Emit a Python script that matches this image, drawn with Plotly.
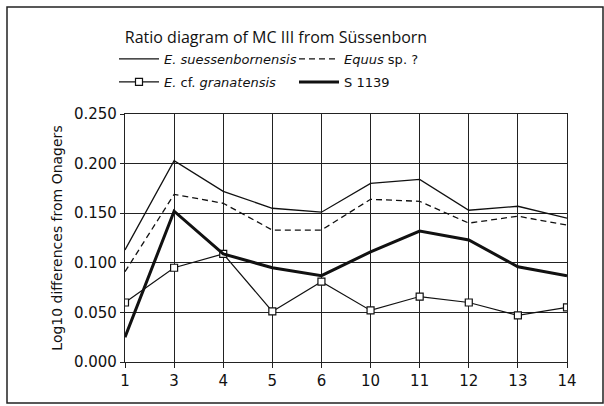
import plotly.graph_objects as go

categories = ["1", "3", "4", "5", "6", "10", "11", "12", "13", "14"]
suessenbornensis = [0.113, 0.203, 0.172, 0.155, 0.151, 0.180, 0.184, 0.153, 0.157, 0.145]
equus_sp = [0.091, 0.169, 0.160, 0.133, 0.133, 0.164, 0.162, 0.140, 0.147, 0.138]
granatensis = [0.060, 0.095, 0.109, 0.051, 0.081, 0.052, 0.066, 0.060, 0.047, 0.055]
s1139 = [0.025, 0.152, 0.109, 0.095, 0.087, 0.111, 0.132, 0.123, 0.096, 0.087]
y_ticks = [0.0, 0.05, 0.10, 0.15, 0.20, 0.25]

FONT = "DejaVu Sans"
TITLE_FONT = "Open Sans"

fig = go.Figure()
fig.add_trace(go.Scatter(x=categories, y=suessenbornensis, mode="lines",
                         name="<i>E. suessenbornensis</i>", legend="legend",
                         line=dict(color="#111", width=1.3)))
fig.add_trace(go.Scatter(x=categories, y=equus_sp, mode="lines",
                         name="<i>Equus</i> sp. ?", legend="legend",
                         line=dict(color="#111", width=1.3, dash="6px,4px")))
fig.add_trace(go.Scatter(x=categories, y=granatensis, mode="lines+markers",
                         name="<i>E.</i> cf. <i>granatensis</i>", legend="legend2",
                         line=dict(color="#111", width=1.2),
                         marker=dict(symbol="square", size=7, color="white",
                                     line=dict(color="#111", width=1.2))))
fig.add_trace(go.Scatter(x=categories, y=s1139, mode="lines",
                         name="S 1139", legend="legend2",
                         line=dict(color="#111", width=3)))

L, R, T, B = 125, 567, 114, 362


def px_x(p):
    return (p - L) / float(R - L)


def px_y(p):
    return (B - p) / float(B - T)


fig.add_shape(type="rect", xref="paper", yref="paper",
              x0=px_x(7), x1=px_x(603), y0=px_y(403), y1=px_y(7),
              line=dict(color="#222", width=1.5), fillcolor="rgba(0,0,0,0)", layer="below")

legend_common = dict(orientation="h", xanchor="left", yanchor="top",
                     entrywidth=125, entrywidthmode="pixels",
                     font=dict(size=13, family=FONT, color="#111"),
                     bgcolor="rgba(0,0,0,0)", itemwidth=40)

fig.update_layout(
    width=604, height=406,
    margin=dict(l=L, r=604 - R, t=T, b=406 - B),
    paper_bgcolor="white", plot_bgcolor="white",
    font=dict(family=FONT, color="#111", size=14),
    title=dict(text="Ratio diagram of MC III from Süssenborn",
               x=px_x(276), xref="paper", xanchor="center",
               y=1 - 37 / 406.0, yanchor="middle",
               font=dict(size=16, family=TITLE_FONT, color="#111")),
    showlegend=True,
    legend=dict(x=px_x(114), y=px_y(44), **legend_common),
    legend2=dict(x=px_x(114), y=px_y(67), **legend_common),
    xaxis=dict(type="category", range=[0, 9], showgrid=True,
               gridcolor="#222", gridwidth=1, showline=True, linecolor="#222",
               linewidth=1.2, mirror=True, ticks="outside", ticklen=5,
               tickcolor="#222", tickfont=dict(size=15, family=FONT)),
    yaxis=dict(range=[0, 0.25], tickvals=y_ticks, tickformat=".3f",
               showgrid=True, gridcolor="#222", gridwidth=1,
               showline=True, linecolor="#222", linewidth=1.2, mirror=True,
               ticks="outside", ticklen=4, tickcolor="#222",
               zeroline=False,
               tickfont=dict(size=15, family=FONT),
               title=dict(text="Log10 differences from Onagers",
                          font=dict(size=14, family=FONT), standoff=8)),
)

fig.write_html("out.html", config={"displayModeBar": False},
               post_script="document.body.style.margin='0px';")
